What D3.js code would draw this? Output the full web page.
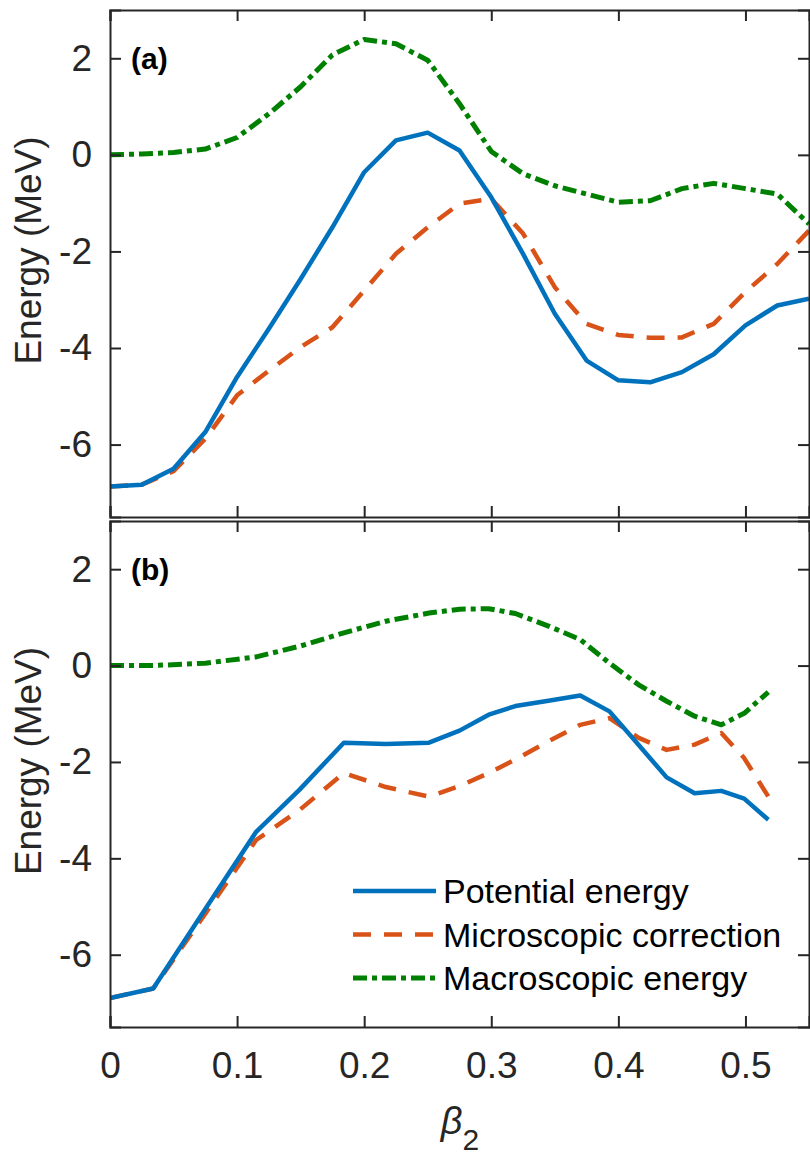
<!DOCTYPE html>
<html>
<head>
<meta charset="utf-8">
<script src="https://cdn.jsdelivr.net/npm/d3@7"></script>
<style>
  body { margin: 0; background: #fff; }
  svg { display: block; font-family: "Liberation Sans", Arial, sans-serif; }
</style>
</head>
<body>
<div id="viz-container"></div>
<script>
// ---- data ----
let betaA = [0, 0.025, 0.05, 0.075, 0.1, 0.125, 0.15, 0.175, 0.2, 0.225, 0.25, 0.275,
             0.3, 0.325, 0.35, 0.375, 0.4, 0.425, 0.45, 0.475, 0.5, 0.525, 0.55];
let potentialA = [-6.87, -6.83, -6.50, -5.74, -4.60, -3.60, -2.57, -1.50, -0.36, 0.30, 0.46, 0.09,
                  -0.88, -2.05, -3.29, -4.26, -4.67, -4.71, -4.50, -4.13, -3.53, -3.12, -2.98];
let microA = [-6.87, -6.83, -6.55, -5.88, -4.98, -4.47, -3.98, -3.57, -2.81, -2.05, -1.50, -1.01,
              -0.91, -1.63, -2.74, -3.50, -3.73, -3.79, -3.78, -3.50, -2.84, -2.26, -1.57];
let macroA = [0, 0.02, 0.05, 0.12, 0.36, 0.85, 1.41, 2.07, 2.39, 2.30, 1.96, 1.06,
              0.07, -0.39, -0.64, -0.81, -0.98, -0.95, -0.70, -0.59, -0.70, -0.81, -1.43];

let betaB = [0, 0.034, 0.075, 0.115, 0.149, 0.184, 0.217, 0.251, 0.275, 0.298, 0.319, 0.345,
             0.370, 0.393, 0.416, 0.438, 0.460, 0.481, 0.499, 0.518];
let potentialB = [-6.90, -6.70, -5.05, -3.45, -2.58, -1.60, -1.63, -1.60, -1.35, -1.02, -0.84, -0.73,
                  -0.62, -0.95, -1.65, -2.32, -2.65, -2.60, -2.76, -3.20];
let microB = [-6.90, -6.70, -5.15, -3.62, -3.00, -2.23, -2.52, -2.72, -2.50, -2.23, -1.95, -1.57,
              -1.23, -1.09, -1.50, -1.75, -1.64, -1.40, -1.92, -2.72];
let macroB = [0, 0.0, 0.05, 0.18, 0.40, 0.68, 0.92, 1.09, 1.17, 1.18, 1.08, 0.82,
              0.54, 0.05, -0.40, -0.74, -1.05, -1.23, -0.99, -0.55];

let xTicks = [0, 0.1, 0.2, 0.3, 0.4, 0.5];
let yTicks = [-6, -4, -2, 0, 2];
let seriesNames = ["Potential energy", "Microscopic correction", "Macroscopic energy"];

// ---- look ----
let colors = ["#0072BD", "#D95319", "#008000"];
let dashes = [null, "18,13", "14,5,5,5"];
let widths = [4.5, 4.5, 5];
let axisColor = "#262626";

let W = 810, H = 1159;
let left = 110, right = 809;

let viz = d3.select("#viz-container")
  .append("svg")
    .attr("width", W)
    .attr("height", H);

let x = d3.scaleLinear().domain([0, 0.55]).range([left, right]);

// plain hyphen minus like the original, not the unicode one
function numLabel(d){
  return String(d);
}

function drawPanel(top, bottom, xs, series, tag, showXLabels, showLegend){
  let y = d3.scaleLinear().domain([-7.5, 3]).range([bottom, top]);
  let g = viz.append("g");

  let clipId = "clip" + tag;
  viz.append("clipPath").attr("id", clipId)
    .append("rect")
      .attr("x", left).attr("y", top)
      .attr("width", right - left).attr("height", bottom - top);

  let line = d3.line()
    .x(function(d){ return x(d[0]); })
    .y(function(d){ return y(d[1]); });

  // draw macro first, potential on top
  [2, 1, 0].forEach(function(i){
    let pts = xs.map(function(b, j){ return [b, series[i][j]]; });
    g.append("path")
      .datum(pts)
      .attr("clip-path", "url(#" + clipId + ")")
      .attr("fill", "none")
      .attr("stroke", colors[i])
      .attr("stroke-width", widths[i])
      .attr("stroke-dasharray", dashes[i])
      .attr("stroke-linejoin", "round")
      .attr("d", line);
  });

  // axes with inward ticks, box all round
  let axB = g.append("g").attr("transform", "translate(0," + bottom + ")")
    .call(d3.axisBottom(x).tickValues(xTicks).tickSize(-11).tickPadding(25)
      .tickFormat(showXLabels ? numLabel : function(){ return ""; }));
  let axT = g.append("g").attr("transform", "translate(0," + top + ")")
    .call(d3.axisTop(x).tickValues(xTicks).tickSize(-11).tickFormat(function(){ return ""; }));
  let axL = g.append("g").attr("transform", "translate(" + left + ",0)")
    .call(d3.axisLeft(y).tickValues(yTicks).tickSize(-11).tickPadding(18).tickFormat(numLabel));
  let axR = g.append("g").attr("transform", "translate(" + right + ",0)")
    .call(d3.axisRight(y).tickValues(yTicks).tickSize(-11).tickFormat(function(){ return ""; }));

  [axB, axT, axL, axR].forEach(function(a){
    a.select(".domain").attr("stroke", axisColor).attr("stroke-width", 2);
    a.selectAll(".tick line").attr("stroke", axisColor).attr("stroke-width", 2);
    a.selectAll("text").attr("fill", axisColor).style("font-size", "37px")
      .style("font-family", "'Liberation Sans', Arial, sans-serif");
  });

  // y label
  g.append("text")
    .attr("transform", "translate(41," + ((top + bottom) / 2 - 13) + ") rotate(-90)")
    .attr("text-anchor", "middle")
    .style("font-size", "37px")
    .attr("fill", axisColor)
    .text("Energy (MeV)");

  // panel tag
  g.append("text")
    .attr("x", left + 21)
    .attr("y", top + 59)
    .style("font-size", "30px")
    .style("font-weight", "bold")
    .attr("fill", "#000")
    .text("(" + tag + ")");

  if(showLegend){
    let leg = g.append("g").attr("transform", "translate(353," + (bottom - 136) + ")");
    seriesNames.forEach(function(name, i){
      let row = leg.append("g").attr("transform", "translate(0," + (i * 43.5) + ")");
      row.append("line")
        .attr("x1", 0).attr("x2", 83)
        .attr("stroke", colors[i])
        .attr("stroke-width", widths[i])
        .attr("stroke-dasharray", dashes[i]);
      row.append("text")
        .attr("x", 90)
        .attr("dy", "0.36em")
        .style("font-size", "34px")
        .attr("fill", "#000")
        .text(name);
    });
  }
}

drawPanel(10, 517, betaA, [potentialA, microA, macroA], "a", false, false);
drawPanel(521, 1027, betaB, [potentialB, microB, macroB], "b", true, true);

// x label: beta_2
let xl = viz.append("text")
  .attr("x", 460)
  .attr("y", 1134)
  .attr("text-anchor", "middle")
  .attr("fill", axisColor);
xl.append("tspan").style("font-size", "38px").style("font-style", "italic").text("β");
xl.append("tspan").attr("dy", 16).style("font-size", "30px").text("2");
</script>
</body>
</html>
